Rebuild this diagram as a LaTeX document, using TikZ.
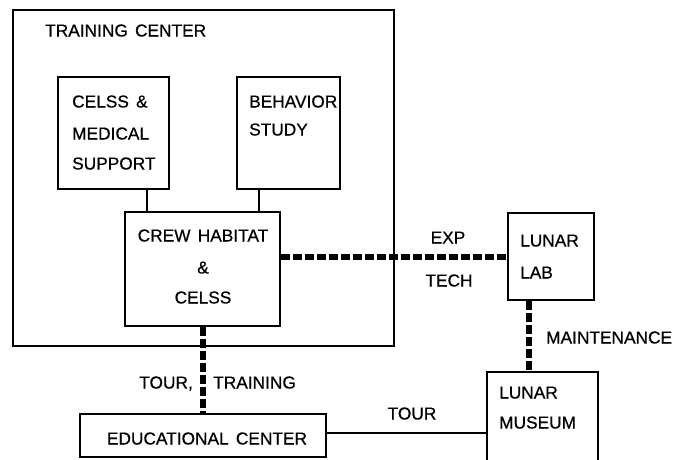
\documentclass[tikz,border=0pt]{standalone}
\usepackage{fontspec}
\setmainfont{Liberation Sans}[WordSpace=1.5, FakeBold=0.6]
\begin{document}
\begin{tikzpicture}[x=1pt,y=-1pt,
  box/.style={draw, line width=2pt, inner sep=0pt},
  lbl/.style={font=\fontsize{17.3}{20}\selectfont, inner sep=0pt, anchor=base west},
  lblc/.style={lbl, anchor=base},
  thickdash/.style={line width=6pt, dash pattern=on 9pt off 3pt},
  conn/.style={line width=2pt}]
\useasboundingbox (0,0) rectangle (694,459);
\clip (0,0) rectangle (694,459);
% boxes
\node[box, minimum width=381pt, minimum height=336pt] (tc) at (203.5,178) {};
\node[box, minimum width=111pt, minimum height=112pt] (celss) at (113.5,133) {};
\node[box, minimum width=103pt, minimum height=112pt] (beh) at (288.5,133) {};
\node[box, minimum width=155pt, minimum height=114pt, fill=white] (crew) at (202.5,269) {};
\node[box, minimum width=86pt, minimum height=87pt] (lab) at (551,256.5) {};
\node[box, minimum width=111pt, minimum height=100pt] (mus) at (542.5,422) {};
\node[box, minimum width=246pt, minimum height=43pt] (edu) at (203,435.5) {};
% connectors
\draw[conn] ([xshift=33.5pt]celss.south) -- ([xshift=33.5pt]celss.south |- crew.north);
\draw[conn] ([xshift=-29.5pt]beh.south) -- ([xshift=-29.5pt]beh.south |- crew.north);
\draw[thickdash] (crew.east |- lab.west) -- (lab.west);
\draw[thickdash] (crew.south) -- (crew.south |- edu.north);
\draw[thickdash] ([xshift=-22pt]lab.south) -- ([xshift=-22pt]lab.south |- mus.north);
\draw[conn] ([yshift=2.5pt]edu.east) -- ([yshift=2.5pt]edu.east -| mus.west);
% texts
\node[lbl] (ttc) at (45,36.5) {TRAINING CENTER};
\node[lbl] (t1) at (72,107.5) {CELSS \&};
\node[lbl] (t2) at (72,139.5) {MEDICAL};
\node[lbl] (t3) at (72,169.5) {SUPPORT};
\node[lbl] (t4) at (249,107.5) {BEHAVIOR};
\node[lbl] (t5) at (249,135.5) {STUDY};
\node[lblc] (t6) at (203,241.5) {CREW HABITAT};
\node[lblc] (t7) at (203,273.5) {\&};
\node[lblc] (t8) at (203,303.5) {CELSS};
\node[lbl] (t9) at (520,246.5) {LUNAR};
\node[lbl] (t10) at (520,278.5) {LAB};
\node[lbl] (t11) at (499,398.5) {LUNAR};
\node[lbl] (t12) at (499,428.5) {MUSEUM};
\node[lblc] (t13) at (207,444.5) {EDUCATIONAL CENTER};
\node[lbl, anchor=base east] (t14) at (193,388.5) {TOUR,};
\node[lbl] (t15) at (213,388.5) {TRAINING};
\node[lblc] (t16) at (448,243.5) {EXP};
\node[lblc] (t17) at (449,286.5) {TECH};
\node[lbl] (t18) at (546,343.5) {MAINTENANCE};
\node[lblc] (t19) at (412,419.5) {TOUR};
\end{tikzpicture}
\end{document}
